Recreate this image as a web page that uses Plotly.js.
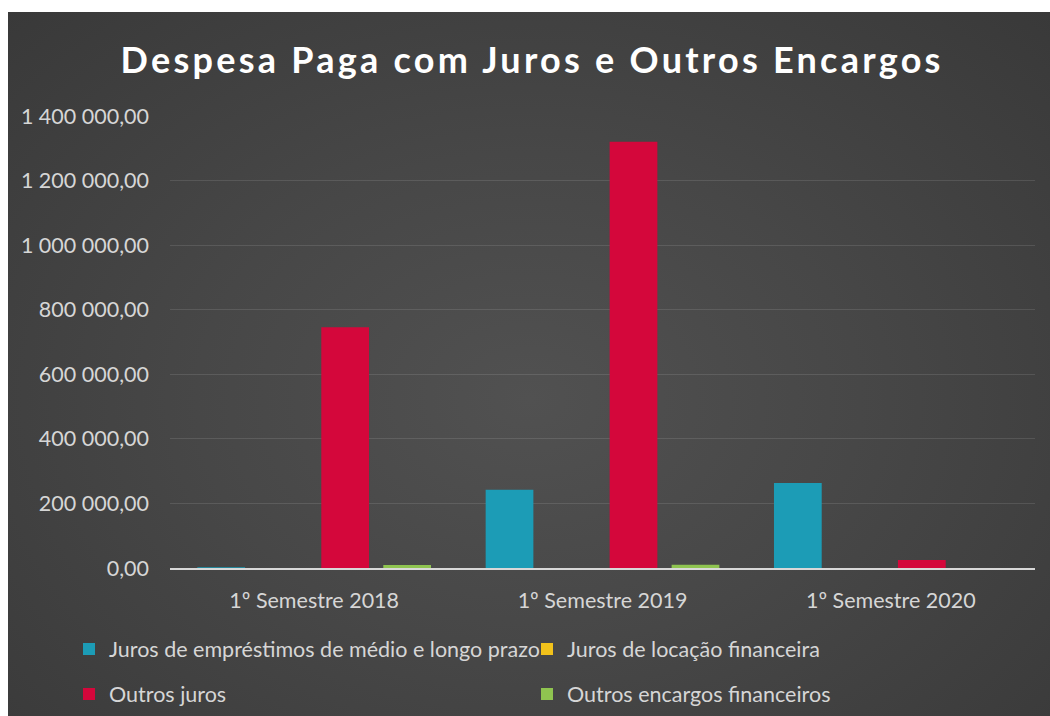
<!DOCTYPE html>
<html>
<head>
<meta charset="utf-8">
<script src="https://cdn.plot.ly/plotly-3.0.1.min.js"></script>
<style>
  html, body { margin: 0; padding: 0; background: #ffffff; width: 1050px; height: 716px; overflow: hidden; }
  #chart {
    position: absolute; left: 8px; top: 12px; width: 1042px; height: 704px;
    background: radial-gradient(ellipse at 50% 55%, #515151 0%, #474747 45%, #393939 100%);
  }
  #chart .gtitle { letter-spacing: 3.25px; }
</style>
</head>
<body>
<div id="chart"></div>
<script>
const categories = ['1º Semestre 2018', '1º Semestre 2019', '1º Semestre 2020'];
const seriesNames = [
  'Juros de empréstimos de médio e longo prazo',
  'Juros de locação financeira',
  'Outros juros',
  'Outros encargos financeiros'
];
const jurosEmprestimos = [2000, 242000, 263000];
const jurosLocacao = [0, 0, 0];
const outrosJuros = [746000, 1320000, 25000];
const outrosEncargos = [9000, 10000, 0];
const yTicks = [0, 200000, 400000, 600000, 800000, 1000000, 1200000, 1400000];

const colors = ['#1c9cb6', '#f2c21b', '#d4073b', '#8fc450'];
const seriesValues = [jurosEmprestimos, jurosLocacao, outrosJuros, outrosEncargos];
const legendIds = ['legend', 'legend2', 'legend3', 'legend4'];

const traces = seriesValues.map((vals, i) => ({
  type: 'bar',
  name: seriesNames[i],
  x: categories,
  y: vals,
  marker: { color: colors[i] },
  legend: legendIds[i],
  hoverinfo: 'skip'
}));

const textFont = { family: 'Lato, sans-serif', size: 21.5, color: '#d6d6d6' };
function legendAt(x, y) {
  return {
    xref: 'container', yref: 'container',
    x: x, y: y, xanchor: 'left', yanchor: 'middle',
    bgcolor: 'rgba(0,0,0,0)', font: textFont,
    itemwidth: 30, borderwidth: 0
  };
}

const layout = {
  width: 1042, height: 704,
  paper_bgcolor: 'rgba(0,0,0,0)',
  plot_bgcolor: 'rgba(0,0,0,0)',
  separators: ', ',
  margin: { l: 162, r: 15, t: 104, b: 148, autoexpand: false },
  title: {
    text: 'Despesa Paga com Juros e Outros Encargos',
    font: { family: 'Lato, sans-serif', size: 36, color: '#ffffff', weight: 'bold' },
    xref: 'container', yref: 'container', x: 0.503, y: 1 - 48 / 704,
    xanchor: 'center', yanchor: 'middle', automargin: false
  },
  barmode: 'group',
  bargap: 0.14,
  bargroupgap: 0.23,
  showlegend: true,
  legend: legendAt(61 / 1042, 1 - 637 / 704),
  legend2: legendAt(519 / 1042, 1 - 637 / 704),
  legend3: legendAt(61 / 1042, 1 - 682 / 704),
  legend4: legendAt(519 / 1042, 1 - 682 / 704),
  xaxis: {
    type: 'category',
    showgrid: false,
    showline: true, linecolor: '#d8d8d8', linewidth: 2,
    ticks: '', ticklabelstandoff: 12, tickangle: 0,
    tickfont: textFont,
    zeroline: false, fixedrange: true, automargin: false
  },
  yaxis: {
    range: [0, 1400000],
    tickvals: yTicks,
    tickformat: ',.2f',
    showgrid: true, gridcolor: 'rgba(255,255,255,0.11)', gridwidth: 1,
    zeroline: false, showline: false, ticks: '',
    ticklabelstandoff: 20,
    tickfont: textFont,
    fixedrange: true, automargin: false
  }
};

Plotly.newPlot('chart', traces, layout, { displayModeBar: false, staticPlot: true });
</script>
</body>
</html>
